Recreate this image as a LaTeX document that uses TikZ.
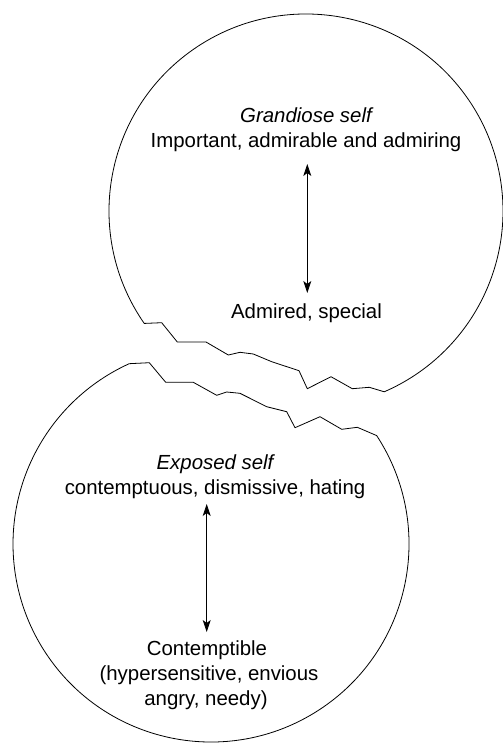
\documentclass[tikz,border=0pt]{standalone}
\usepackage{fontspec}
\setmainfont{Liberation Sans}
\usetikzlibrary{arrows.meta,calc}
\begin{document}
\begin{tikzpicture}[x=1bp,y=-1bp,
  outline/.style={line width=0.8bp, line join=round, black},
  lbl/.style={inner sep=0pt, font=\fontsize{20.4bp}{25bp}\selectfont, text=black},
  arr/.style={line width=0.8bp, {Stealth[length=12bp,width=8bp,inset=3bp]}-{Stealth[length=12bp,width=8bp,inset=3bp]}}]
\useasboundingbox (0,0) rectangle (503,743);
% centres
\coordinate (tc) at (306,211);
\coordinate (bc) at (211,544);
% top (grandiose) broken circle
\draw[outline] (tc) ++(145.2:197) arc[start angle=145.2, end angle=426.6, radius=197]
  -- (369.3,387.3) -- (352.3,388.7) -- (331,376.7) -- (307.3,388.7) -- (299,370.7)
  -- (271.7,361.7) -- (253.3,354) -- (240,352.3) -- (228.3,355) -- (206,342)
  -- (177.3,342) -- (161.7,322.7) -- cycle;
% bottom (exposed) broken circle
\draw[outline] (bc) ++(-33.2:198) arc[start angle=-33.2, end angle=245.6, radius=198]
  -- (149.3,362.7) -- (165.7,382.3) -- (193.3,382.3) -- (216.7,395.3) -- (226.7,392)
  -- (240,393.3) -- (266.7,406.7) -- (286.7,411.7) -- (295,427.7) -- (320,416.7)
  -- (341.7,429.3) -- (357.3,427.3) -- cycle;
% texts
\node[lbl, anchor=base] (gs) at (306,122) {\itshape Grandiose self};
\node[lbl, anchor=base] (imp) at (306,147) {Important, admirable and admiring};
\node[lbl, anchor=base] (adm) at (306.5,318) {Admired, special};
\node[lbl, anchor=base] (es) at (215,469) {\itshape Exposed self};
\node[lbl, anchor=base] (cdh) at (215,494) {contemptuous, dismissive, hating};
\node[lbl, anchor=base] (ct) at (207,655) {Contemptible};
\node[lbl, anchor=base] (hyp) at (209,680) {(hypersensitive, envious};
\node[lbl, anchor=base] (ang) at (206,705) {angry, needy)};
% arrows
\coordinate (a1) at (307.3,164);
\coordinate (a2) at (307.3,293);
\coordinate (b1) at (206.7,504);
\coordinate (b2) at (206.7,632);
\draw[arr] (a1) -- (a2);
\draw[arr] (b1) -- (b2);
\end{tikzpicture}
\end{document}
